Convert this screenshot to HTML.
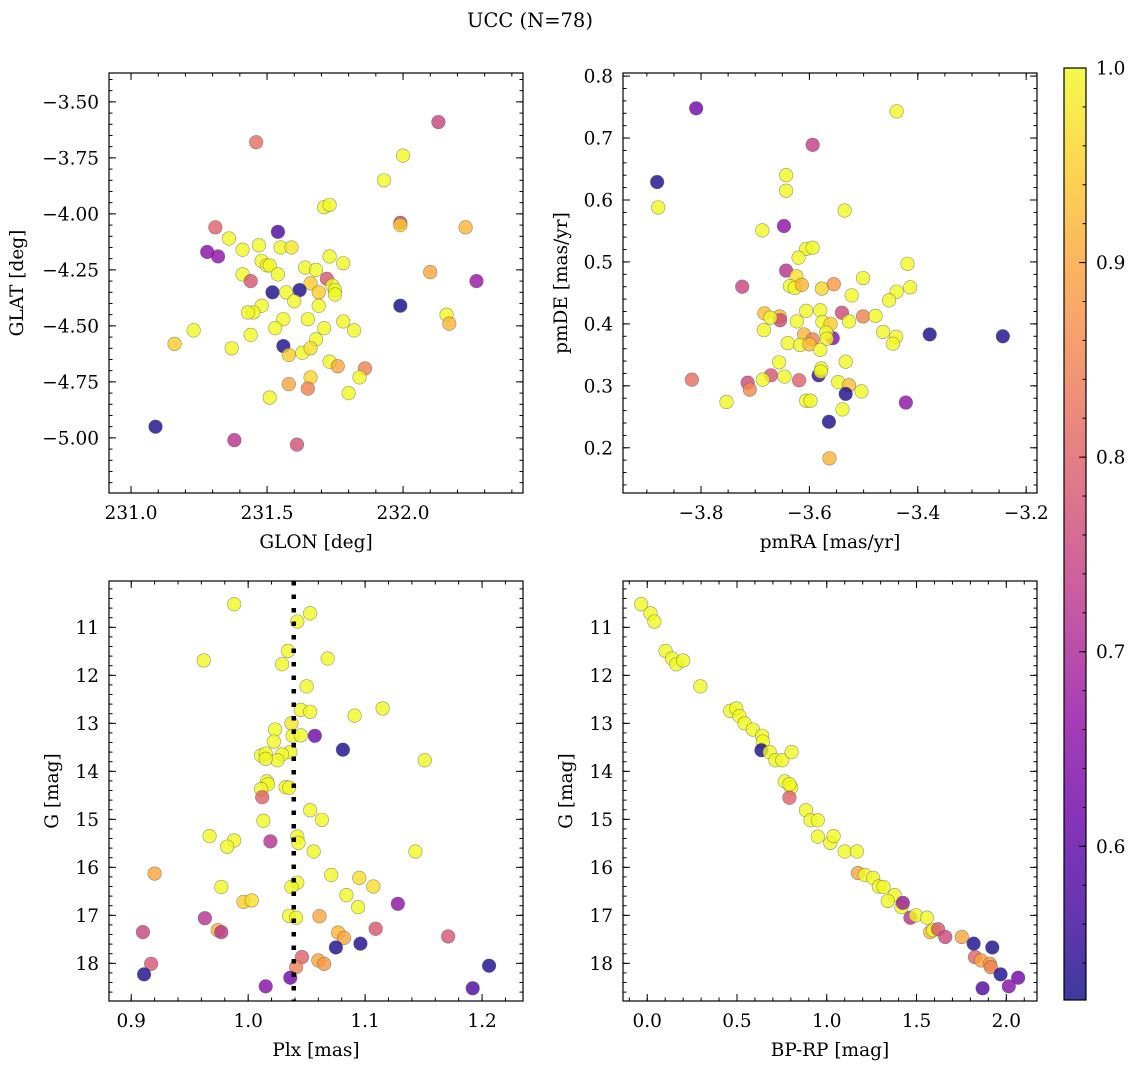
<!DOCTYPE html>
<html><head><meta charset="utf-8"><style>
html,body{margin:0;padding:0;background:#fff;}
svg{display:block;font-family:"DejaVu Serif","Liberation Serif",serif;}
</style></head><body>
<svg id="fig" width="1136" height="1068" viewBox="0 0 1136 1068" xmlns="http://www.w3.org/2000/svg">
<text x="530" y="27" font-size="19.5" text-anchor="middle" fill="#000">UCC (N=78)</text>
</svg>
<script>
// ---- Panel 1: GLON vs GLAT ----
const p1Glon=[232.13,231.46,232.00,231.93,231.71,231.73,231.31,231.99,231.99,232.23,231.54,231.36,231.47,231.41,231.55,231.59,231.28,231.32,231.73,231.78,231.48,231.50,231.51,231.64,231.68,231.54,231.41,231.44,232.10,232.27,231.72,231.66,231.74,231.75,231.75,231.69,231.52,231.62,231.57,231.60,231.99,231.48,231.45,231.43,231.69,232.16,232.17,231.56,231.65,231.53,231.78,231.82,231.71,231.23,231.44,231.68,231.16,231.37,231.56,231.58,231.63,231.66,231.73,231.76,231.86,231.84,231.66,231.58,231.65,231.51,231.80,231.09,231.38,231.61];
const p1Glat=[-3.59,-3.68,-3.74,-3.85,-3.97,-3.96,-4.06,-4.04,-4.05,-4.06,-4.08,-4.11,-4.14,-4.16,-4.15,-4.15,-4.17,-4.19,-4.19,-4.22,-4.21,-4.23,-4.23,-4.24,-4.25,-4.27,-4.27,-4.30,-4.26,-4.30,-4.29,-4.31,-4.32,-4.34,-4.36,-4.35,-4.35,-4.34,-4.35,-4.39,-4.41,-4.41,-4.44,-4.44,-4.41,-4.45,-4.49,-4.47,-4.47,-4.51,-4.48,-4.52,-4.51,-4.52,-4.54,-4.56,-4.58,-4.60,-4.59,-4.63,-4.62,-4.60,-4.66,-4.68,-4.69,-4.73,-4.73,-4.76,-4.78,-4.82,-4.80,-4.95,-5.01,-5.03];
const p1Prob=[0.75,0.82,1,1,1,1,0.8,0.75,0.95,0.92,0.58,1,1,1,1,0.98,0.65,0.66,1,1,1,1,1,1,1,1,1,0.78,0.9,0.67,0.78,0.95,1,1,1,0.95,0.53,0.53,1,1,0.52,1,1,1,1,1,0.92,1,1,1,1,1,1,1,1,1,0.95,1,0.53,0.95,1,0.97,1,0.9,0.85,1,0.96,0.9,0.85,1,1,0.53,0.72,0.77];
const p1XTicks=[231.0,231.5,232.0];
const p1YTicks=[-3.50,-3.75,-4.00,-4.25,-4.50,-4.75,-5.00];

// ---- Panel 2: pmRA vs pmDE ----
const p2PmRA=[-3.809,-3.439,-3.594,-3.881,-3.643,-3.643,-3.879,-3.535,-3.687,-3.647,-3.606,-3.594,-3.620,-3.419,-3.643,-3.624,-3.501,-3.724,-3.636,-3.627,-3.614,-3.577,-3.555,-3.522,-3.439,-3.414,-3.453,-3.606,-3.580,-3.540,-3.501,-3.478,-3.683,-3.655,-3.654,-3.672,-3.623,-3.576,-3.561,-3.527,-3.684,-3.464,-3.440,-3.446,-3.378,-3.243,-3.610,-3.594,-3.557,-3.569,-3.568,-3.640,-3.617,-3.600,-3.580,-3.656,-3.533,-3.817,-3.714,-3.710,-3.671,-3.686,-3.646,-3.619,-3.583,-3.578,-3.579,-3.547,-3.527,-3.533,-3.504,-3.422,-3.753,-3.606,-3.598,-3.539,-3.564,-3.563];
const p2PmDE=[0.748,0.743,0.689,0.629,0.640,0.615,0.588,0.583,0.551,0.558,0.521,0.523,0.507,0.497,0.486,0.477,0.474,0.460,0.461,0.458,0.463,0.457,0.464,0.446,0.452,0.459,0.438,0.421,0.422,0.418,0.412,0.413,0.417,0.412,0.406,0.410,0.404,0.403,0.400,0.404,0.390,0.387,0.379,0.368,0.383,0.380,0.383,0.375,0.377,0.386,0.376,0.369,0.366,0.367,0.358,0.338,0.339,0.310,0.305,0.294,0.317,0.310,0.315,0.309,0.317,0.328,0.323,0.306,0.301,0.287,0.291,0.273,0.274,0.276,0.276,0.262,0.242,0.183];
const p2Prob=[0.62,1,0.74,0.53,1,1,1,1,1,0.66,1,1,1,1,0.72,0.97,1,0.75,1,1,0.92,0.96,0.88,1,1,1,1,1,1,0.76,0.85,1,0.93,0.92,0.76,1,1,1,0.95,1,1,1,1,1,0.53,0.53,0.92,0.85,0.65,1,1,1,1,0.93,1,1,1,0.82,0.76,0.86,0.78,1,1,0.8,0.55,1,1,1,0.93,0.53,1,0.66,1,1,1,1,0.53,0.92];
const p2XTicks=[-3.8,-3.6,-3.4,-3.2];
const p2YTicks=[0.8,0.7,0.6,0.5,0.4,0.3,0.2];

// ---- Panel 3: Plx vs G ----
const p3Plx=[0.988,1.053,1.042,1.034,1.029,0.962,1.068,1.050,1.045,1.053,1.091,1.115,1.037,1.023,1.038,1.045,1.057,1.022,1.081,1.036,1.029,1.025,1.011,1.015,1.015,1.151,1.016,1.017,1.011,1.032,1.035,1.012,1.053,1.063,1.013,1.042,1.043,0.967,0.988,0.982,1.019,1.056,1.143,0.920,1.071,1.095,1.107,0.977,1.042,1.037,1.084,0.996,1.003,1.094,1.128,0.963,1.035,1.041,1.061,0.910,0.974,0.977,1.109,1.077,1.082,1.171,1.096,1.075,1.046,1.060,1.065,0.917,1.041,1.206,0.911,1.036,1.015,1.192];
const p3G=[10.52,10.71,10.88,11.49,11.77,11.69,11.65,12.23,12.72,12.76,12.84,12.69,13.00,13.13,13.26,13.25,13.26,13.38,13.55,13.60,13.65,13.77,13.67,13.63,13.74,13.77,14.21,14.27,14.37,14.33,14.34,14.54,14.81,15.01,15.03,15.36,15.49,15.35,15.44,15.57,15.46,15.67,15.67,16.13,16.16,16.22,16.40,16.41,16.32,16.41,16.58,16.72,16.69,16.83,16.76,17.06,17.01,17.05,17.02,17.35,17.31,17.35,17.28,17.36,17.47,17.44,17.59,17.67,17.87,17.94,18.01,18.01,18.08,18.05,18.23,18.30,18.48,18.52];
const p3Prob=[1,1,1,1,1,1,1,1,1,1,1,1,0.98,1,1,1,0.62,1,0.53,1,1,1,1,1,1,1,1,1,1,1,1,0.8,1,1,1,1,1,1,1,1,0.72,1,1,0.9,1,0.97,0.97,1,1,1,1,0.95,0.97,1,0.66,0.72,1,1,0.9,0.75,0.92,0.72,0.78,0.92,0.9,0.78,0.53,0.53,0.8,0.9,0.88,0.78,0.85,0.53,0.53,0.62,0.65,0.58];
const p3XTicks=[0.9,1.0,1.1,1.2];
const p3YTicks=[11,12,13,14,15,16,17,18];
const p3PlxMedian=1.039;

// ---- Panel 4: BP-RP vs G ----
const p4BpRp=[-0.034,0.018,0.040,0.102,0.138,0.162,0.200,0.296,0.462,0.496,0.514,0.542,0.588,0.640,0.644,0.636,0.682,0.714,0.752,0.804,0.766,0.802,0.792,0.792,0.884,0.910,0.950,0.950,1.020,1.038,1.100,1.168,1.174,1.212,1.258,1.290,1.316,1.378,1.340,1.416,1.424,1.466,1.496,1.558,1.576,1.592,1.620,1.660,1.752,1.818,1.922,1.826,1.860,1.908,1.914,1.968,2.066,2.014,1.868];
const p4G=[10.52,10.71,10.88,11.49,11.65,11.77,11.69,12.23,12.74,12.69,12.85,13.00,13.13,13.26,13.38,13.56,13.60,13.77,13.77,13.60,14.21,14.34,14.27,14.55,14.81,15.02,15.02,15.36,15.49,15.35,15.67,15.67,16.12,16.16,16.22,16.40,16.41,16.58,16.70,16.83,16.74,17.05,17.00,17.05,17.35,17.31,17.29,17.45,17.45,17.59,17.67,17.87,17.94,18.01,18.08,18.23,18.30,18.48,18.52];
const p4Prob=[1,1,1,1,1,1,1,1,1,1,1,1,1,1,1,0.53,1,1,1,1,1,1,1,0.8,1,1,1,1,1,1,1,1,0.9,1,1,1,1,1,1,1,0.68,0.72,1,1,0.92,1,0.78,0.76,0.9,0.53,0.53,0.8,0.9,0.88,0.85,0.53,0.62,0.65,0.58];
const p4XTicks=[0.0,0.5,1.0,1.5,2.0];
const p4YTicks=[11,12,13,14,15,16,17,18];

// ---- Colorbar ----
const cbTicks=[0.6,0.7,0.8,0.9,1.0];
const cbMin=0.521, cbMax=1.0;

const NS="http://www.w3.org/2000/svg";
const svg=document.getElementById('fig');
const FS=18.5;
function mk(tag,attrs,parent){const e=document.createElementNS(NS,tag);for(const k in attrs)e.setAttribute(k,attrs[k]);(parent||svg).appendChild(e);return e;}

const plasma=[[13,8,135],[65,4,157],[106,0,168],[143,13,164],[177,42,144],[204,71,120],[225,100,98],[242,132,75],[252,166,54],[252,206,37],[240,249,33]];
function cmap(v){let t=(v-cbMin)/(cbMax-cbMin);t=Math.max(0,Math.min(1,t));const s=t*10,i=Math.min(9,Math.floor(s)),f=s-i;const a=plasma[i],b=plasma[i+1];return `rgb(${Math.round(a[0]+(b[0]-a[0])*f)},${Math.round(a[1]+(b[1]-a[1])*f)},${Math.round(a[2]+(b[2]-a[2])*f)})`;}
function fmt(v,d){const s=Math.abs(v).toFixed(d);return (v<-1e-9?'\u2212':'')+s;}

function panel(c){
  const g=mk('g',{});
  
  
  const sx=v=>c.L+(v-c.xd[0])/(c.xd[1]-c.xd[0])*(c.R-c.L);
  const sy=c.yInv? (v=>c.T+(v-c.yd[0])/(c.yd[1]-c.yd[0])*(c.B-c.T)) : (v=>c.B-(v-c.yd[0])/(c.yd[1]-c.yd[0])*(c.B-c.T));
  const tk=mk('g',{stroke:'#000','stroke-width':1},g);
  
  
  const xs=Math.ceil(c.xd[0]/c.xm-1e-6);
  for(let k=xs;k*c.xm<=c.xd[1];k++){const x=sx(k*c.xm);mk('line',{x1:x,x2:x,y1:c.B,y2:c.B-3.5},tk);mk('line',{x1:x,x2:x,y1:c.T,y2:c.T+3.5},tk);}
  const ys=Math.ceil(Math.min(c.yd[0],c.yd[1])/c.ym-1e-6);
  for(let k=ys;k*c.ym<=Math.max(c.yd[0],c.yd[1]);k++){const y=sy(k*c.ym);mk('line',{x1:c.L,x2:c.L+3.5,y1:y,y2:y},tk);mk('line',{x1:c.R,x2:c.R-3.5,y1:y,y2:y},tk);}
  c.xt.forEach(v=>{const x=sx(v);mk('line',{x1:x,x2:x,y1:c.B,y2:c.B-7},tk);mk('line',{x1:x,x2:x,y1:c.T,y2:c.T+7},tk);
    const t=mk('text',{x:x,y:c.B+26,'font-size':FS,'text-anchor':'middle'},g);t.textContent=fmt(v,c.xdp);
    
    });
  c.yt.forEach(v=>{const y=sy(v);mk('line',{x1:c.L,x2:c.L+7,y1:y,y2:y},tk);mk('line',{x1:c.R,x2:c.R-7,y1:y,y2:y},tk);
    const t=mk('text',{x:c.L-10,y:y+6.5,'font-size':FS,'text-anchor':'end'},g);t.textContent=fmt(v,c.ydp);
    
    });
  if(c.vline!==undefined){const x=sx(c.vline);const l=mk('line',{x1:x,x2:x,y1:c.T,y2:c.B,stroke:'#000','stroke-width':4.5,'stroke-dasharray':'4.5 10'},g);
    
    }
  const pts=mk('g',{},g);
  
  
  for(let i=0;i<c.xs.length;i++){
    const ci=mk('circle',{cx:sx(c.xs[i]),cy:sy(c.ys[i]),r:6.8,fill:cmap(c.ps[i]),'fill-opacity':0.8,stroke:'#555','stroke-opacity':0.6,'stroke-width':0.6},pts);
    
    
  }
  const fr=mk('rect',{x:c.L,y:c.T,width:c.R-c.L,height:c.B-c.T,fill:'none',stroke:'#000','stroke-width':1.2},g);
  
  
  const xl=mk('text',{x:(c.L+c.R)/2,y:c.B+55,'font-size':FS,'text-anchor':'middle'},g);xl.textContent=c.xl;
  
  
  const yx=c.ylx,yy=(c.T+c.B)/2;
  const yl=mk('text',{x:yx,y:yy,'font-size':FS,'text-anchor':'middle',transform:`rotate(-90 ${yx} ${yy})`},g);yl.textContent=c.yl;
  
  
}

panel({name:'glon-glat-panel',L:109,R:523,T:73,B:493,xd:[230.919,232.441],yd:[-5.246,-3.371],xm:0.1,ym:0.05,xt:p1XTicks,yt:p1YTicks,xdp:1,ydp:2,xs:p1Glon,ys:p1Glat,ps:p1Prob,xl:'GLON [deg]',yl:'GLAT [deg]',ylx:23});
panel({name:'pm-panel',L:623,R:1037,T:73,B:493,xd:[-3.944,-3.180],yd:[0.127,0.805],xm:0.05,ym:0.02,xt:p2XTicks,yt:p2YTicks,xdp:1,ydp:1,xs:p2PmRA,ys:p2PmDE,ps:p2Prob,xl:'pmRA [mas/yr]',yl:'pmDE [mas/yr]',ylx:567});
panel({name:'plx-g-panel',L:109,R:523,T:581,B:1001,xd:[0.881,1.235],yd:[10.035,18.785],yInv:true,xm:0.02,ym:0.2,xt:p3XTicks,yt:p3YTicks,xdp:1,ydp:0,xs:p3Plx,ys:p3G,ps:p3Prob,xl:'Plx [mas]',yl:'G [mag]',ylx:58});
panel({name:'cmd-panel',L:623,R:1037,T:581,B:1001,xd:[-0.135,2.171],yd:[10.035,18.785],yInv:true,xm:0.1,ym:0.2,xt:p4XTicks,yt:p4YTicks,xdp:1,ydp:0,xs:p4BpRp,ys:p4G,ps:p4Prob,xl:'BP-RP [mag]',yl:'G [mag]',ylx:572});

// colorbar
(function(){
  const L=1064,R=1086,T=68,B=1000;
  const cb=mk('g',{});
  
  
  const defs=mk('defs',{},cb);
  const gr=mk('linearGradient',{id:'cbg',x1:0,y1:1,x2:0,y2:0},defs);
  for(let i=0;i<=20;i++){const v=cbMin+(cbMax-cbMin)*i/20;mk('stop',{offset:i/20,'stop-color':cmap(v)},gr);}
  mk('rect',{x:L,y:T,width:R-L,height:B-T,fill:'url(#cbg)','fill-opacity':0.8},cb);
  const sy=v=>B-(v-cbMin)/(cbMax-cbMin)*(B-T);
  for(let k=Math.ceil(cbMin/0.02);k*0.02<=cbMax+1e-9;k++){const y=sy(k*0.02);mk('line',{x1:R,x2:R-3.5,y1:y,y2:y,stroke:'#000','stroke-width':1},cb);}
  cbTicks.forEach(v=>{const y=sy(v);mk('line',{x1:R,x2:R-7,y1:y,y2:y,stroke:'#000','stroke-width':1},cb);
    const t=mk('text',{x:R+10,y:y+6.5,'font-size':FS},cb);t.textContent=v.toFixed(1);
    
    });
  mk('rect',{x:L,y:T,width:R-L,height:B-T,fill:'none',stroke:'#000','stroke-width':1.2},cb);
})();
// re-apply plx median line on top of frame order already handled
panel;
</script>
<script>
// draw median parallax line in panel 3
(function(){
  const L=109,R=523,T=581,B=1001,x0=0.881,x1=1.235;
  const x=L+(p3PlxMedian-x0)/(x1-x0)*(R-L);
  const l=document.createElementNS("http://www.w3.org/2000/svg",'line');
  l.setAttribute('x1',x);l.setAttribute('x2',x);l.setAttribute('y1',T);l.setAttribute('y2',B);
  l.setAttribute('stroke','#000');l.setAttribute('stroke-width',4.5);l.setAttribute('stroke-dasharray','4.5 9');
  
  
  document.getElementById('fig').appendChild(l);
})();
</script>
</body></html>
